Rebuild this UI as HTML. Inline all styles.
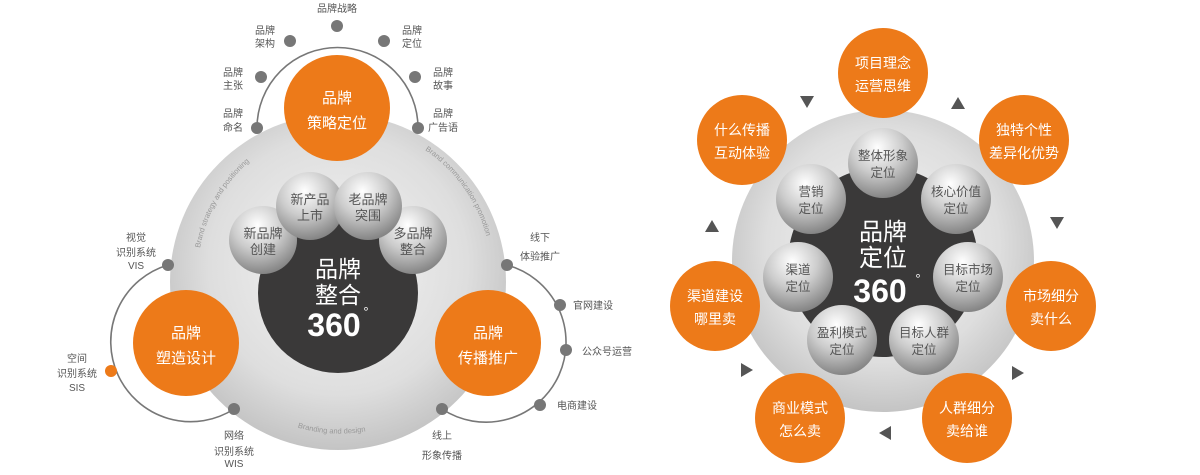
<!DOCTYPE html>
<html><head><meta charset="utf-8"><style>
html,body{margin:0;padding:0;background:#fff;}
svg{display:block;}
text{font-family:"Liberation Sans","Noto Sans CJK SC",sans-serif;}
</style></head><body>
<svg width="1200" height="475" viewBox="0 0 1200 475" xmlns="http://www.w3.org/2000/svg">
<defs>
<radialGradient id="gbig" cx="50%" cy="45%" r="55%">
<stop offset="0" stop-color="#f4f4f4"/><stop offset="0.7" stop-color="#dedede"/><stop offset="1" stop-color="#c4c4c4"/>
</radialGradient>
<radialGradient id="sph" cx="42%" cy="28%" r="72%">
<stop offset="0" stop-color="#ffffff"/><stop offset="0.5" stop-color="#cccccc"/><stop offset="1" stop-color="#858585"/>
</radialGradient>
<path id="arcL" d="M 200 248 A 150 150 0 0 1 262 152"/>
<path id="arcR" d="M 425 150 A 150 150 0 0 1 490 255"/>
<path id="arcB" d="M 290 425 A 150 150 0 0 0 390 425"/>
</defs>

<!-- LEFT DIAGRAM -->
<g fill="none" stroke="#777" stroke-width="1.6">
<path d="M 257 128 A 80 80 0 1 1 418 128"/>
<path d="M 168 265 A 80 80 0 1 0 234 409"/>
<path d="M 507 265 A 80 80 0 1 1 442 409"/>
</g>
<circle cx="338" cy="282" r="168" fill="url(#gbig)"/>
<g font-size="7.5" fill="#999">
<text><textPath href="#arcL">Brand strategy and positioning</textPath></text>
<text><textPath href="#arcR">Brand communication promotion</textPath></text>
<text><textPath href="#arcB" startOffset="8">Branding and design</textPath></text>
</g>
<circle cx="338" cy="293" r="80" fill="#3a3939"/>
<g fill="url(#sph)">
<circle cx="263" cy="240" r="34"/><circle cx="413" cy="240" r="34"/>
<circle cx="310" cy="206" r="34"/><circle cx="368" cy="206" r="34"/>
</g>
<g font-size="13" fill="#555" text-anchor="middle">
<text x="263" y="238">新品牌</text><text x="263" y="254">创建</text>
<text x="310" y="204">新产品</text><text x="310" y="220">上市</text>
<text x="368" y="204">老品牌</text><text x="368" y="220">突围</text>
<text x="413" y="238">多品牌</text><text x="413" y="254">整合</text>
</g>
<g fill="#fff" text-anchor="middle">
<text x="338" y="277" font-size="23">品牌</text>
<text x="338" y="303" font-size="23">整合</text>
<text x="334" y="336" font-size="32" font-weight="bold">360</text>
<text x="366" y="316" font-size="13">°</text>
</g>
<g fill="#ed7a19">
<circle cx="337" cy="108" r="53"/><circle cx="186" cy="343" r="53"/><circle cx="488" cy="343" r="53"/>
</g>
<g fill="#fff" font-size="15" text-anchor="middle">
<text x="337" y="103">品牌</text><text x="337" y="128">策略定位</text>
<text x="186" y="338">品牌</text><text x="186" y="363">塑造设计</text>
<text x="488" y="338">品牌</text><text x="488" y="363">传播推广</text>
</g>
<g fill="#777">
<circle cx="337" cy="26" r="6"/><circle cx="290" cy="41" r="6"/><circle cx="384" cy="41" r="6"/>
<circle cx="261" cy="77" r="6"/><circle cx="415" cy="77" r="6"/><circle cx="257" cy="128" r="6"/><circle cx="418" cy="128" r="6"/>
<circle cx="168" cy="265" r="6"/><circle cx="234" cy="409" r="6"/>
<circle cx="507" cy="265" r="6"/><circle cx="560" cy="305" r="6"/><circle cx="566" cy="350" r="6"/><circle cx="540" cy="405" r="6"/><circle cx="442" cy="409" r="6"/>
</g>
<circle cx="111" cy="371" r="6" fill="#ed7a19"/>
<g font-size="10" fill="#555" text-anchor="middle">
<text x="337" y="12">品牌战略</text>
<text x="265" y="34">品牌</text><text x="265" y="47">架构</text>
<text x="412" y="34">品牌</text><text x="412" y="47">定位</text>
<text x="233" y="76">品牌</text><text x="233" y="89">主张</text>
<text x="443" y="76">品牌</text><text x="443" y="89">故事</text>
<text x="233" y="117">品牌</text><text x="233" y="131">命名</text>
<text x="443" y="117">品牌</text><text x="443" y="131">广告语</text>
<text x="136" y="241">视觉</text><text x="136" y="256">识别系统</text><text x="136" y="269">VIS</text>
<text x="77" y="362">空间</text><text x="77" y="377">识别系统</text><text x="77" y="391">SIS</text>
<text x="234" y="439">网络</text><text x="234" y="455">识别系统</text><text x="234" y="467">WIS</text>
<text x="540" y="241">线下</text><text x="540" y="260">体验推广</text>
<text x="442" y="439">线上</text><text x="442" y="459">形象传播</text>
</g>
<g font-size="10" fill="#555">
<text x="573" y="309">官网建设</text>
<text x="582" y="355">公众号运营</text>
<text x="557" y="409">电商建设</text>
</g>

<!-- RIGHT DIAGRAM -->
<circle cx="883" cy="261" r="151" fill="url(#gbig)"/>
<circle cx="883" cy="262" r="95" fill="#3a3939"/>
<g fill="url(#sph)">
<circle cx="883" cy="163" r="35"/><circle cx="956" cy="199" r="35"/><circle cx="968" cy="277" r="35"/>
<circle cx="924" cy="340" r="35"/><circle cx="842" cy="340" r="35"/><circle cx="798" cy="277" r="35"/><circle cx="811" cy="199" r="35"/>
</g>
<g font-size="12.5" fill="#555" text-anchor="middle">
<text x="883" y="160">整体形象</text><text x="883" y="177">定位</text>
<text x="956" y="196">核心价值</text><text x="956" y="213">定位</text>
<text x="968" y="274">目标市场</text><text x="968" y="291">定位</text>
<text x="924" y="337">目标人群</text><text x="924" y="354">定位</text>
<text x="842" y="337">盈利模式</text><text x="842" y="354">定位</text>
<text x="798" y="274">渠道</text><text x="798" y="291">定位</text>
<text x="811" y="196">营销</text><text x="811" y="213">定位</text>
</g>
<g fill="#fff" text-anchor="middle">
<text x="883" y="240" font-size="24">品牌</text>
<text x="883" y="266" font-size="24">定位</text>
<text x="880" y="302" font-size="32" font-weight="bold">360</text>
<text x="918" y="283" font-size="13">°</text>
</g>
<g fill="#ed7a19">
<circle cx="883" cy="73" r="45"/><circle cx="1024" cy="140" r="45"/><circle cx="1051" cy="306" r="45"/>
<circle cx="967" cy="418" r="45"/><circle cx="800" cy="418" r="45"/><circle cx="715" cy="306" r="45"/><circle cx="742" cy="140" r="45"/>
</g>
<g fill="#fff" font-size="14" text-anchor="middle">
<text x="883" y="68">项目理念</text><text x="883" y="91">运营思维</text>
<text x="1024" y="135">独特个性</text><text x="1024" y="158">差异化优势</text>
<text x="1051" y="301">市场细分</text><text x="1051" y="324">卖什么</text>
<text x="967" y="413">人群细分</text><text x="967" y="436">卖给谁</text>
<text x="800" y="413">商业模式</text><text x="800" y="436">怎么卖</text>
<text x="715" y="301">渠道建设</text><text x="715" y="324">哪里卖</text>
<text x="742" y="135">什么传播</text><text x="742" y="158">互动体验</text>
</g>
<g fill="#555">
<polygon points="800,96 814,96 807,108"/>
<polygon points="951,109 965,109 958,97"/>
<polygon points="1050,217 1064,217 1057,229"/>
<polygon points="1012,366 1012,380 1024,373"/>
<polygon points="891,426 891,440 879,433"/>
<polygon points="741,363 741,377 753,370"/>
<polygon points="705,232 719,232 712,220"/>
</g>
</svg>
</body></html>
